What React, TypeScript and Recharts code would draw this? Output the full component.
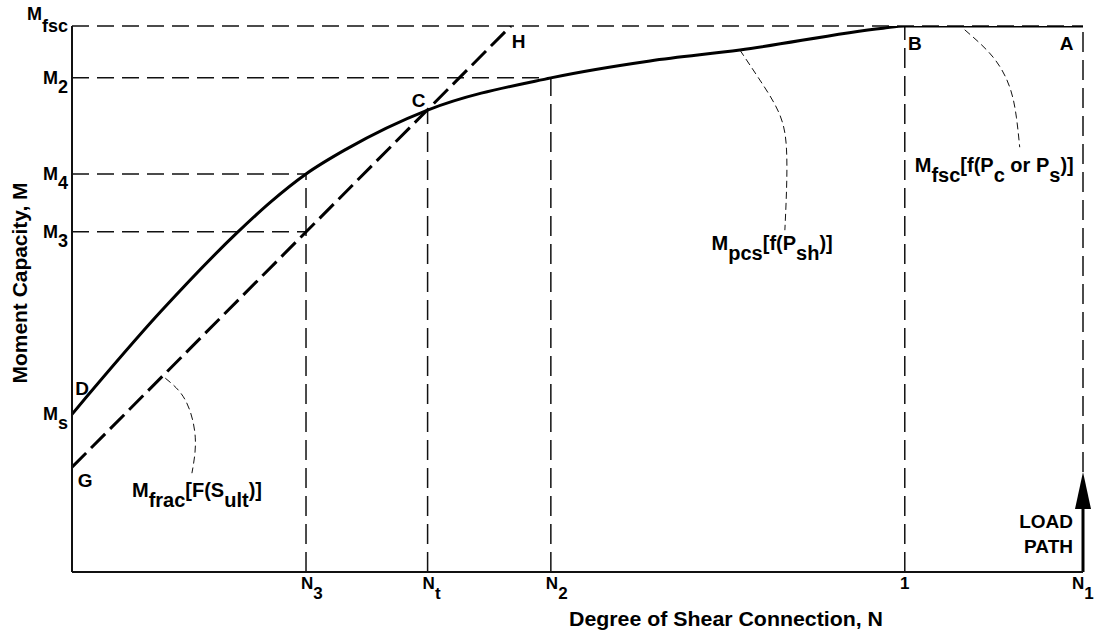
import React from 'react';
import { ComposedChart, Line, XAxis, YAxis, ReferenceLine, ReferenceDot } from 'recharts';

// degree of shear connection (1 = full connection)
const N3 = 0.281;
const NT = 0.427;
const N2 = 0.575;
const N_FULL = 1;
const N1 = 1.214;

// moment levels, Mfsc = 1
const MS = 0.289;
const MG = 0.192;
const M3 = 0.623;
const M4 = 0.729;
const MC = 0.846;
const M2 = 0.905;
const MFSC = 1;

const xTicks = [N3, NT, N2, N_FULL, N1];
const xTickLabels = [['N', '3'], ['N', 't'], ['N', '2'], ['1', ''], ['N', '1']];
const yTicks = [MS, M3, M4, M2, MFSC];
const yTickLabels = [['M', 's'], ['M', '3'], ['M', '4'], ['M', '2'], ['M', 'fsc']];

// D - C - B - A : partial composite capacity curve
const capacityCurve = [
  { n: 0, m: MS },
  { n: 0.106, m: 0.476 },
  { n: 0.198, m: 0.621 },
  { n: 0.238, m: 0.677 },
  { n: N3, m: M4 },
  { n: 0.33, m: 0.775 },
  { n: NT, m: MC },
  { n: N2, m: M2 },
  { n: 0.694, m: 0.936 },
  { n: 0.802, m: 0.956 },
  { n: 0.974, m: 0.996 },
  { n: N_FULL, m: MFSC },
  { n: N1, m: MFSC },
];

// G - H : fracture line
const fractureLine = [
  { n: 0, m: MG },
  { n: 0.527, m: MFSC },
];

// leaders from the curves to their labels
const fracLeader = [
  { n: 0.112, m: 0.355 },
  { n: 0.136, m: 0.315 },
  { n: 0.148, m: 0.247 },
  { n: 0.144, m: 0.181 },
];
const pcsLeader = [
  { n: 0.802, m: 0.956 },
  { n: 0.826, m: 0.901 },
  { n: 0.85, m: 0.837 },
  { n: 0.858, m: 0.773 },
  { n: 0.858, m: 0.7 },
  { n: 0.856, m: 0.626 },
];
const fscLeader = [
  { n: 1.072, m: 0.993 },
  { n: 1.106, m: 0.943 },
  { n: 1.126, m: 0.888 },
  { n: 1.134, m: 0.833 },
  { n: 1.138, m: 0.778 },
];

const pointLetters = [
  { t: 'D', n: 0.004, m: 0.324 },
  { t: 'G', n: 0.007, m: 0.156 },
  { t: 'C', n: 0.408, m: 0.852 },
  { t: 'H', n: 0.528, m: 0.96 },
  { t: 'B', n: 1.004, m: 0.956 },
  { t: 'A', n: 1.186, m: 0.956 },
];

// [text, subscript?]
const curveLabels = [
  { n: 0.072, m: 0.137, parts: [['M', 0], ['frac', 1], ['[F(S', 0], ['ult', 1], [')]', 0]] },
  { n: 0.768, m: 0.59, parts: [['M', 0], ['pcs', 1], ['[f(P', 0], ['sh', 1], [')]', 0]] },
  { n: 1.012, m: 0.733, parts: [['M', 0], ['fsc', 1], ['[f(P', 0], ['c', 1], [' or P', 0], ['s', 1], [')]', 0]] },
];

const ARROW_BASE = 0.117;
const ARROW_TIP = 0.183;
const LOAD_LABEL_M = 0.081;

const FONT = "'Liberation Sans', Arial, sans-serif";
const INK = '#111';

const RichText = ({ x, y, parts, size, anchor = 'start', shift }: any) => (
  <text x={x} y={y} textAnchor={anchor} fontFamily={FONT} fontWeight="bold" fontSize={size} fill="#000" style={{ whiteSpace: 'pre' }}>
    {parts.map(([t, sub]: any, i: number) => {
      const prevSub = i > 0 && parts[i - 1][1];
      const dy = sub ? shift : prevSub ? -shift : 0;
      return (
        <tspan key={i} dy={dy}>
          {t}
        </tspan>
      );
    })}
  </text>
);

const XTick = ({ x, y, payload }: any) => {
  const i = xTicks.indexOf(payload.value);
  const [main, sub] = xTickLabels[i] || ['', ''];
  if (!sub) {
    return (
      <text x={x} y={y + 17} textAnchor="middle" fontFamily={FONT} fontWeight="bold" fontSize={17} fill="#000">
        {main}
      </text>
    );
  }
  // keep the last label inside the picture
  const left = Math.min(x - 5, 1072);
  return <RichText x={left} y={y + 17} parts={[[main, 0], [sub, 1]]} size={17} shift={10} />;
};

const YTick = ({ x, y, payload }: any) => {
  const i = yTicks.indexOf(payload.value);
  const [main, sub] = yTickLabels[i] || ['', ''];
  const top = payload.value === MFSC;
  return <RichText x={x - 4} y={top ? y - 6 : y + 6} anchor="end" parts={[[main, 0], [sub, 1]]} size={18} shift={top ? 12 : 9} />;
};

const App = () => {
  return (
    <div style={{ position: 'absolute', left: 0, top: 0, background: '#fff' }}>
      <ComposedChart width={1097} height={631} margin={{ top: 26, right: 14, bottom: 0, left: 0 }}>
        <XAxis
          dataKey="n"
          type="number"
          domain={[0, N1]}
          ticks={xTicks}
          interval={0}
          tick={<XTick />}
          tickLine={false}
          tickSize={0}
          tickMargin={0}
          height={59}
          axisLine={{ stroke: INK, strokeWidth: 2 }}
          allowDataOverflow
          label={() => (
            <text x={726} y={626} textAnchor="middle" fontFamily={FONT} fontWeight="bold" fontSize={20} fill="#000" textLength={314} lengthAdjust="spacingAndGlyphs">
              Degree of Shear Connection, N
            </text>
          )}
        />
        <YAxis
          type="number"
          domain={[0, MFSC]}
          ticks={yTicks}
          interval={0}
          tick={<YTick />}
          tickLine={false}
          tickSize={0}
          tickMargin={0}
          width={72}
          axisLine={{ stroke: INK, strokeWidth: 2 }}
          allowDataOverflow
          label={() => (
            <text x={20} y={283} transform="rotate(-90, 20, 283)" textAnchor="middle" dominantBaseline="central" fontFamily={FONT} fontWeight="bold" fontSize={20} fill="#000" textLength={201} lengthAdjust="spacingAndGlyphs">
              Moment Capacity, M
            </text>
          )}
        />

        {/* dashed projection lines */}
        <ReferenceLine segment={[{ x: 0, y: MFSC }, { x: N1, y: MFSC }]} stroke={INK} strokeWidth={1.5} strokeDasharray="17 8" />
        <ReferenceLine segment={[{ x: 0, y: M2 }, { x: N2, y: M2 }]} stroke={INK} strokeWidth={1.5} strokeDasharray="17 8" />
        <ReferenceLine segment={[{ x: 0, y: M4 }, { x: N3, y: M4 }]} stroke={INK} strokeWidth={1.5} strokeDasharray="17 8" />
        <ReferenceLine segment={[{ x: 0, y: M3 }, { x: N3, y: M3 }]} stroke={INK} strokeWidth={1.5} strokeDasharray="17 8" />
        <ReferenceLine segment={[{ x: N3, y: 0 }, { x: N3, y: M4 }]} stroke={INK} strokeWidth={1.5} strokeDasharray="20 8" />
        <ReferenceLine segment={[{ x: NT, y: 0 }, { x: NT, y: MC }]} stroke={INK} strokeWidth={1.5} strokeDasharray="20 8" />
        <ReferenceLine segment={[{ x: N2, y: 0 }, { x: N2, y: M2 }]} stroke={INK} strokeWidth={1.5} strokeDasharray="20 8" />
        <ReferenceLine segment={[{ x: N_FULL, y: 0 }, { x: N_FULL, y: MFSC }]} stroke={INK} strokeWidth={1.5} strokeDasharray="20 8" />
        <ReferenceLine segment={[{ x: N1, y: ARROW_TIP }, { x: N1, y: MFSC }]} stroke={INK} strokeWidth={1.5} strokeDasharray="20 8" />

        {/* load path arrow */}
        <ReferenceLine segment={[{ x: N1, y: 0 }, { x: N1, y: ARROW_BASE }]} stroke="#000" strokeWidth={3} />
        <ReferenceDot
          x={N1}
          y={ARROW_TIP}
          r={0}
          ifOverflow="visible"
          shape={(p: any) => <path d={`M${p.cx},${p.cy} L${p.cx - 8},${p.cy + 37} L${p.cx + 8},${p.cy + 37} Z`} fill="#000" />}
        />
        <ReferenceDot
          x={N1}
          y={LOAD_LABEL_M}
          r={0}
          ifOverflow="visible"
          shape={(p: any) => (
            <text x={p.cx - 10} y={p.cy} textAnchor="end" fontFamily={FONT} fontWeight="bold" fontSize={19} fill="#000">
              <tspan x={p.cx - 10}>LOAD</tspan>
              <tspan x={p.cx - 10} dy={25}>PATH</tspan>
            </text>
          )}
        />

        <Line data={fractureLine} dataKey="m" type="linear" stroke="#000" strokeWidth={3} strokeDasharray="20 7" dot={false} activeDot={false} isAnimationActive={false} />
        <Line data={capacityCurve} dataKey="m" type="monotone" stroke="#000" strokeWidth={3} dot={false} activeDot={false} isAnimationActive={false} />
        <Line data={fracLeader} dataKey="m" type="natural" stroke={INK} strokeWidth={1} strokeDasharray="7 4" dot={false} activeDot={false} isAnimationActive={false} />
        <Line data={pcsLeader} dataKey="m" type="natural" stroke={INK} strokeWidth={1} strokeDasharray="7 4" dot={false} activeDot={false} isAnimationActive={false} />
        <Line data={fscLeader} dataKey="m" type="natural" stroke={INK} strokeWidth={1} strokeDasharray="7 4" dot={false} activeDot={false} isAnimationActive={false} />

        {pointLetters.map((d) => (
          <ReferenceDot
            key={d.t}
            x={d.n}
            y={d.m}
            r={0}
            ifOverflow="visible"
            shape={(p: any) => (
              <text x={p.cx} y={p.cy} fontFamily={FONT} fontWeight="bold" fontSize={19} fill="#000">
                {d.t}
              </text>
            )}
          />
        ))}
        {curveLabels.map((d, i) => (
          <ReferenceDot
            key={i}
            x={d.n}
            y={d.m}
            r={0}
            ifOverflow="visible"
            shape={(p: any) => <RichText x={p.cx} y={p.cy} parts={d.parts} size={20} shift={10} />}
          />
        ))}
      </ComposedChart>
    </div>
  );
};

export default App;
